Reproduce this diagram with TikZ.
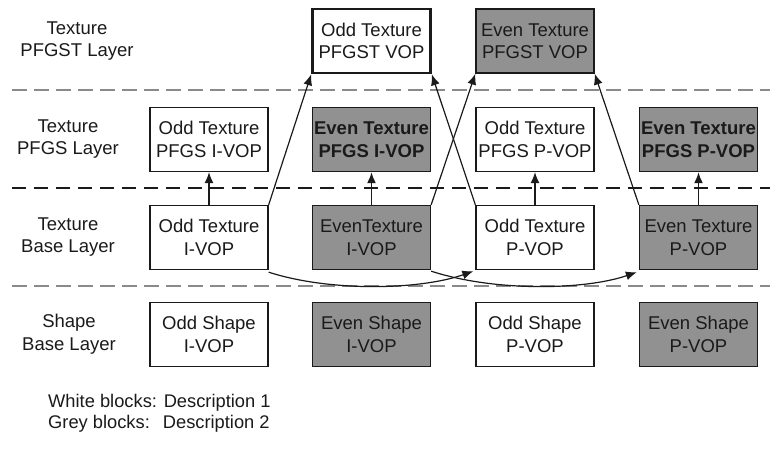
\documentclass[tikz,border=0pt]{standalone}
\usepackage{fontspec}
\setmainfont{Liberation Sans}
\usetikzlibrary{arrows.meta}
\definecolor{boxgrey}{HTML}{919191}
\definecolor{lineGrey}{HTML}{8A8A8A}
\definecolor{ink}{HTML}{1A1A1A}
\begin{document}
\begin{tikzpicture}[x=1pt,y=-1pt,
  txt/.style={font=\fontsize{18.5}{22.5}\selectfont, text=ink, align=center},
  vop/.style={txt, draw=ink, line width=1.3pt, minimum width=118pt, minimum height=64pt, inner sep=0pt},
  white/.style={vop, fill=white},
  grey/.style={vop, fill=boxgrey},
  boldtxt/.style={font=\fontsize{18.5}{22.5}\selectfont\bfseries},
  layerlabel/.style={txt},
  sepgrey/.style={draw=lineGrey, line width=1.6pt, dash pattern=on 15pt off 7pt},
  sepblack/.style={draw=ink, line width=2.6pt, dash pattern=on 14pt off 8pt},
  arr/.style={draw=ink, line width=1.2pt, -{Latex[length=11pt,width=9pt]}},
  legend/.style={font=\fontsize{18.3}{22}\selectfont, text=ink, anchor=west, inner sep=0pt}
]
\useasboundingbox (0,0) rectangle (770,452);

% separators
\coordinate (s1a) at (12,90);  \coordinate (s1b) at (770,90);
\coordinate (s2a) at (12,188); \coordinate (s2b) at (770,188);
\coordinate (s3a) at (12,286); \coordinate (s3b) at (770,286);
\draw[sepgrey] (s1a) -- (s1b);
\draw[sepblack] (s2a) -- (s2b);
\draw[sepgrey] (s3a) -- (s3b);

% layer labels
\node[layerlabel] (l1) at (77,41) {Texture\\PFGST Layer};
\node[layerlabel] (l2) at (68,139) {Texture\\PFGS Layer};
\node[layerlabel] (l3) at (68,237) {Texture\\Base Layer};
\node[layerlabel] (l4) at (69,334) {Shape\\Base Layer};

% PFGST
\node[white, line width=2.6pt] (t1) at (371.5,41) {Odd Texture\\PFGST VOP};
\node[grey] (t2) at (535,41) {Even Texture\\PFGST VOP};

% PFGS
\node[white] (p1) at (209,139.5) {Odd Texture\\PFGS I-VOP};
\node[grey, boldtxt] (p2) at (371.5,139.5) {Even Texture\\PFGS I-VOP};
\node[white] (p3) at (535,139.5) {Odd Texture\\PFGS P-VOP};
\node[grey, boldtxt] (p4) at (698.5,139.5) {Even Texture\\PFGS P-VOP};

% Base
\node[white] (b1) at (209,237.5) {Odd Texture\\I-VOP};
\node[grey] (b2) at (371.5,237.5) {EvenTexture\\I-VOP};
\node[white] (b3) at (535,237.5) {Odd Texture\\P-VOP};
\node[grey] (b4) at (698.5,237.5) {Even Texture\\P-VOP};

% Shape
\node[white] (h1) at (209,334.5) {Odd Shape\\I-VOP};
\node[grey] (h2) at (371.5,334.5) {Even Shape\\I-VOP};
\node[white] (h3) at (535,334.5) {Odd Shape\\P-VOP};
\node[grey] (h4) at (698.5,334.5) {Even Shape\\P-VOP};

% vertical arrows
\draw[arr] (b1.north) -- (p1.south);
\draw[arr, line width=1.8pt] (b2.north) -- (p2.south);
\draw[arr] (b3.north) -- (p3.south);
\draw[arr, line width=1.8pt] (b4.north) -- (p4.south);

% cross arrows to PFGST
\draw[arr] (b1.north east) -- (t1.south west);
\draw[arr] (b2.north east) -- (t2.south west);
\draw[arr] (b3.north west) -- (t1.south east);
\draw[arr] (b4.north west) -- (t2.south east);

% base layer curves
\draw[arr] ([yshift=-2pt]b1.south east) .. controls (330,292) and (420,290) .. ([xshift=-2pt,yshift=-1pt]b3.south west);
\draw[arr] ([yshift=-1pt]b2.south east) .. controls (495,292) and (585,290) .. ([xshift=-2pt,yshift=-2pt]b4.south west);

% legend
\node[legend] (lg1) at (48,403) {White blocks: Description 1};
\node[legend] (lg2) at (48,424) {Grey blocks:\hspace{13pt}Description 2};
\end{tikzpicture}
\end{document}
